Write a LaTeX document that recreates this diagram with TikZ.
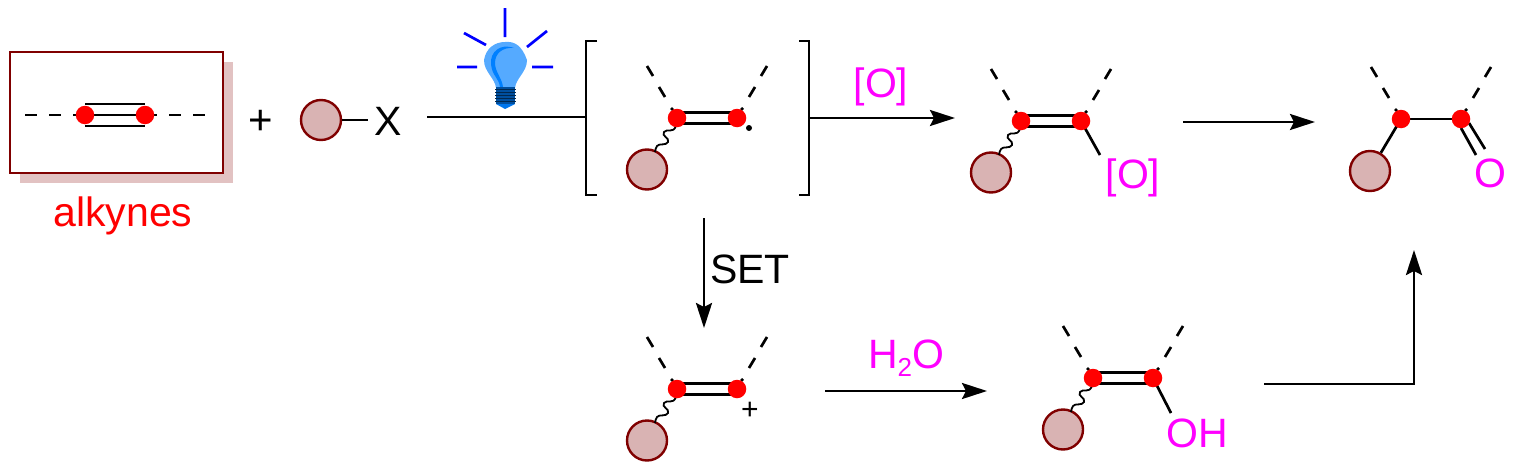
\documentclass[tikz,border=0pt]{standalone}
\usepackage{fontspec}
\setmainfont{Liberation Sans}
\usetikzlibrary{arrows.meta}
\definecolor{dred}{HTML}{800000}
\definecolor{rfill}{HTML}{D9B3B3}
\definecolor{shadowc}{HTML}{E2C2C2}
\definecolor{bulbc}{HTML}{55AAFF}
\definecolor{bulbd}{HTML}{0080FF}
\definecolor{basec}{HTML}{004F9F}
\definecolor{pinkc}{HTML}{FF00FF}
\tikzset{
  bond/.style={line width=2.7pt,black},
  arr/.style={line width=2.7pt,black,-{Stealth[length=25pt,width=16pt,inset=4pt]}},
  plain/.style={line width=2.7pt,black},
  ray/.style={line width=2.7pt,blue},
  reddot/.style={circle,fill=red,draw=none,minimum size=18.5pt,inner sep=0pt},
  rball/.style={circle,fill=rfill,draw=dred,line width=2.4pt,minimum size=40pt,inner sep=0pt},
  lab/.style={inner sep=0pt,font=\fontsize{41}{43}\selectfont},
  pink/.style={lab,text=pinkc},
  wave/.style={line width=1.8pt},
  dashes/.pic={
    \draw[bond] (-30,-52)--(-24,-42) (-18,-31)--(-12,-21) (-6,-10)--(-4,-8);
    \draw[bond] (90,-52)--(84,-42) (78,-31)--(72,-21) (66,-10)--(64,-8);
  },
  alkene/.pic={
    \coordinate (L) at (0,0);
    \coordinate (R) at (60,0);
    \pic {dashes};
    \draw[bond] (0,-5.5)--(60,-5.5) (0,5.5)--(60,5.5);
    \node[rball] (B) at (-30,51.5) {};
    \draw[wave] (-1,8) .. controls (-4,16) and (-10,10) .. (-13,14)
      .. controls (-16,18) and (-7,20) .. (-9,24)
      .. controls (-11,28) and (-18,25) .. (-20,28)
      .. controls (-22,30) and (-21,32) .. (-22,34);
    \node[reddot] at (L) {};
    \node[reddot] at (R) {};
  },
}
\begin{document}
\begin{tikzpicture}[x=1pt,y=-1pt]
\useasboundingbox (0,0) rectangle (1516,471);
% alkyne box
\fill[shadowc] (20,62) rectangle (233,183);
\draw[dred,line width=2.4pt,fill=white] (10,52) rectangle (223,173);
\coordinate (al) at (85,115);
\coordinate (ar) at (145,115);
\draw[bond] (85,104)--(145,104) (al)--(ar) (85,126)--(145,126);
\draw[bond] (25,115)--(37,115) (49,115)--(61,115) (73,115)--(85,115)
  (145,115)--(157,115) (169,115)--(181,115) (193,115)--(205,115);
\node[reddot] (dl) at (al) {};
\node[reddot] (dr) at (ar) {};
\node[lab,text=red,anchor=base] (alk) at (123,226) {alkynes};
\node[lab,font=\fontsize{42}{44}\selectfont] (plus) at (261,122) {+};
\node[rball] (rx) at (321,120) {};
\node[lab,anchor=base] (xx) at (388,135) {X};
\draw[plain] (rx)--(368,120);
% bulb
\draw[ray] (505,8)--(505,37) (464,33)--(486,45) (547,31)--(527,47) (457,67)--(477,67) (532,67)--(553,67);
\fill[bulbc] (505,42) .. controls (515,41) and (522,46) .. (527,60)
  .. controls (527,72) and (516,78) .. (515,88) -- (496,88)
  .. controls (495,78) and (484,72) .. (484,60)
  .. controls (486,48) and (495,42) .. (505,42) -- cycle;
\fill[bulbd] (514,48) .. controls (500,43) and (490,52) .. (491,64)
  .. controls (492,76) and (499,78) .. (500,87) -- (503,87)
  .. controls (502,78) and (495,72) .. (495,63)
  .. controls (495,53) and (503,47) .. (514,48) -- cycle;
\fill[basec] (496,87) rectangle (515,104);
\fill[bulbd!80!basec] (496,104) -- (515,104) -- (505,109) -- cycle;
\foreach \yy in {89,92,95,98,101} \draw[basec!50!black,line width=.8pt] (495,\yy)--(516,\yy);
% arrows and brackets
\coordinate (b1) at (586,117);
\coordinate (b2) at (809,118);
\draw[plain] (427,117)--(b1);
\draw[plain] (597,41)--(586,41)--(586,195)--(597,195);
\draw[plain] (799,41)--(809,41)--(809,195)--(799,195);
\draw[arr] (b2)--(955,118);
\node[pink] (o1) at (881,87) {[O]};
\draw[arr] (1183,122)--(1315,122);
\draw[arr] (704,218)--(704,328);
\node[lab] (set) at (750,269) {SET};
\draw[arr] (825,391)--(987,391);
\node[pink] (h2o) at (906,358) {H\raisebox{-0.2em}{\fontsize{26}{28}\selectfont 2}O};
\draw[arr] (1264,384)--(1414,384)--(1414,250);
% molecule 1
\pic (m1) at (677,118) {alkene};
\node[circle,fill=black,minimum size=6pt,inner sep=0pt] (rad) at (749,128) {};
% molecule 2
\draw[bond] (1081,121)--(1100,155);
\pic (m2) at (1021,121) {alkene};
\node[pink] (o2) at (1133,178) {[O]};
% molecule 3 (ketone)
\pic (m3d) at (1401,119) {dashes};
\coordinate (kl) at (1401,119);
\coordinate (kr) at (1461,119);
\node[rball] (kb) at (1370,171) {};
\draw[bond] (kl)--(kb);
\draw[bond] (kl)--(kr);
\draw[bond] (1461,128)--(1476,155) (1469,123)--(1485,149);
\node[reddot] at (kl) {};
\node[reddot] at (kr) {};
\node[pink] (o3) at (1490,173) {O};
% molecule 4
\pic (m4) at (677,389) {alkene};
\node[lab,font=\fontsize{30}{32}\selectfont] (pl2) at (750,411) {+};
% molecule 5
\draw[bond] (1153,378)--(1171,413);
\pic (m5) at (1093,378) {alkene};
\node[pink] (oh) at (1197,433) {OH};
\end{tikzpicture}
\end{document}
